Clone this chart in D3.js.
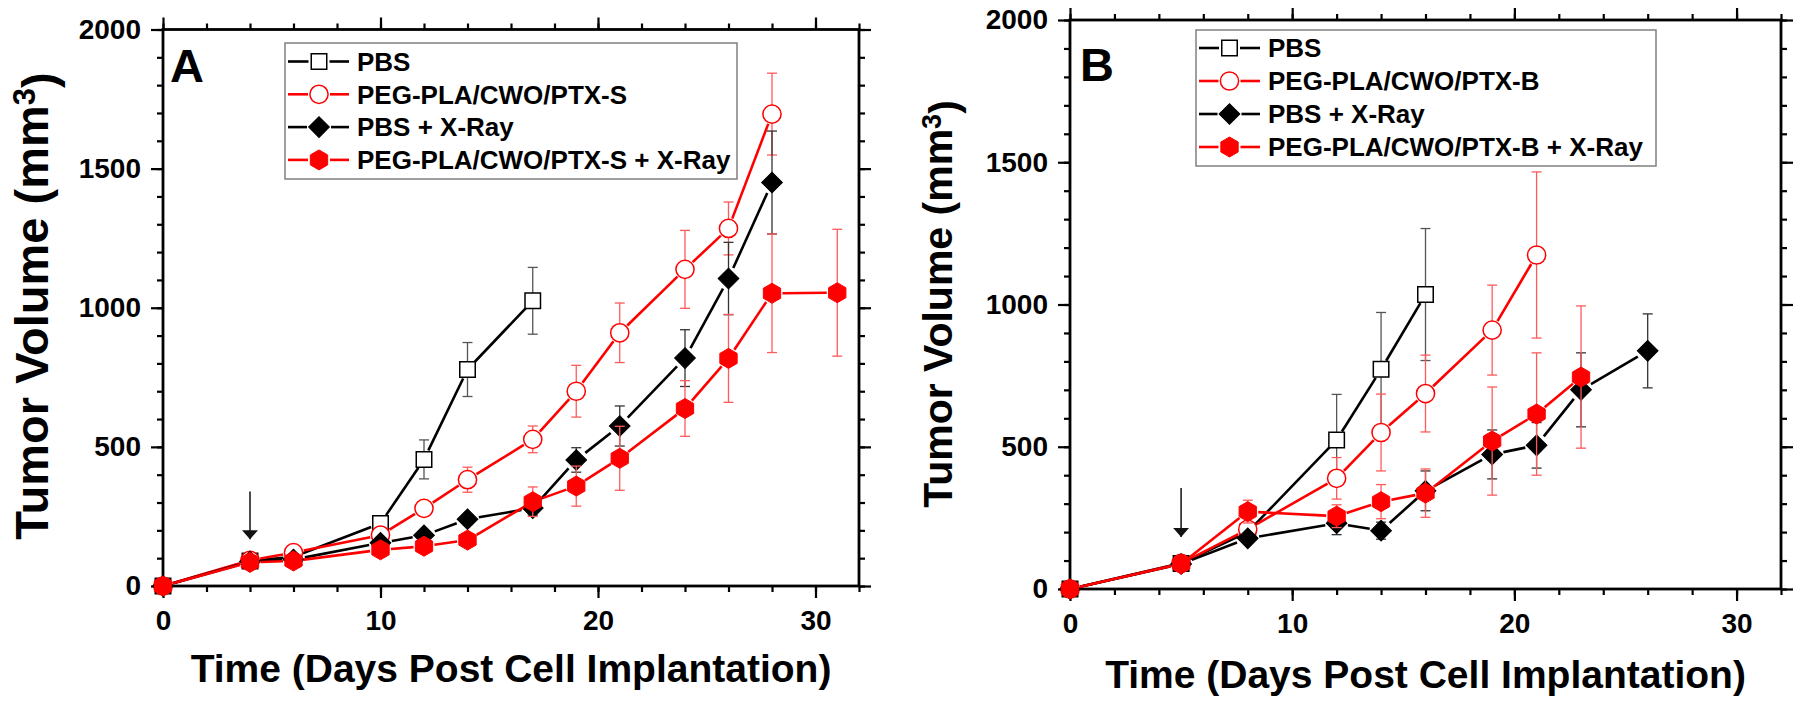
<!DOCTYPE html>
<html>
<head>
<meta charset="utf-8">
<script src="https://cdn.jsdelivr.net/npm/d3@7"></script>
<style>
  body { margin: 0; background: #fff; }
  svg { display: block; }
  text { font-family: "Liberation Sans", Arial, sans-serif; font-weight: bold; fill: #000; }
</style>
</head>
<body>
<svg id="chart" width="1800" height="705"></svg>
<script>
// ---- data, panel A (PTX-S) ----
var pbsA_days  = [0, 4, 6, 10, 12, 14, 17],
    pbsA_vol   = [0, 90, 105, 225, 455, 778, 1025],
    pbsA_err   = [0, 8, 10, 20, 70, 97, 120];

var ptxA_days  = [0, 4, 6, 10, 12, 14, 17, 19, 21, 24, 26, 28],
    ptxA_vol   = [0, 92, 120, 183, 279, 382, 527, 700, 910, 1138, 1285, 1696],
    ptxA_err   = [0, 8, 12, 15, 20, 45, 48, 93, 107, 140, 95, 147];

var xrayA_days = [0, 4, 6, 10, 12, 14, 17, 19, 21, 24, 26, 28],
    xrayA_vol  = [0, 88, 95, 155, 182, 240, 280, 453, 575, 819, 1105, 1450],
    xrayA_err  = [0, 8, 10, 12, 15, 15, 25, 44, 72, 102, 130, 185];

var comboA_days = [0, 4, 6, 10, 12, 14, 17, 19, 21, 24, 26, 28, 31],
    comboA_vol  = [0, 85, 90, 130, 143, 165, 303, 359, 459, 638, 818, 1052, 1054],
    comboA_err  = [0, 8, 8, 12, 12, 15, 53, 72, 115, 100, 158, 213, 228];

// ---- data, panel B (PTX-B) ----
var pbsB_days  = [0, 5, 8, 12, 14, 16],
    pbsB_vol   = [0, 90, 200, 524, 772, 1035],
    pbsB_err   = [0, 8, 20, 160, 200, 232];

var ptxB_days  = [0, 5, 8, 12, 14, 16, 19, 21],
    ptxB_vol   = [0, 90, 210, 389, 550, 687, 910, 1174],
    ptxB_err   = [0, 8, 20, 73, 135, 135, 158, 292];

var xrayB_days = [0, 5, 8, 12, 14, 16, 19, 21, 23, 26],
    xrayB_vol  = [0, 88, 178, 231, 205, 345, 473, 505, 700, 837],
    xrayB_err  = [0, 8, 15, 40, 30, 70, 86, 80, 130, 130];

var comboB_days = [0, 5, 8, 12, 14, 16, 19, 21, 23],
    comboB_vol  = [0, 88, 272, 256, 307, 337, 520, 615, 745],
    comboB_err  = [0, 8, 40, 40, 60, 85, 190, 215, 250];

// treatment arrows: [day, start volume, tip volume]
var arrowA = [4, 340, 168],
    arrowB = [5, 355, 183];

var xMajor = [0, 10, 20, 30],
    xMinor = d3.range(0, 33, 2),
    yMajor = [0, 500, 1000, 1500, 2000],
    yMinor = d3.range(0, 2001, 100);

var namesA = ["PBS", "PEG-PLA/CWO/PTX-S", "PBS + X-Ray", "PEG-PLA/CWO/PTX-S + X-Ray"],
    namesB = ["PBS", "PEG-PLA/CWO/PTX-B", "PBS + X-Ray", "PEG-PLA/CWO/PTX-B + X-Ray"];

// ---- symbols ----
function hexagon(r) {
	var pts = d3.range(6).map(function(i) {
		var a = -Math.PI / 2 + i * Math.PI / 3;
		return [r * Math.cos(a), r * Math.sin(a)];
	});
	return d3.line()(pts) + "Z";
}

var symbols = {
	square:  { path: d3.symbol(d3.symbolSquare, 240)(), r: 8.5, rot: 0 },
	circle:  { path: d3.symbol(d3.symbolCircle, 260)(), r: 9,   rot: 0 },
	diamond: { path: d3.symbol(d3.symbolSquare, 215)(), r: 10,  rot: 45 },
	hexagon: { path: hexagon(10),                       r: 9,   rot: 0 }
};

var RED = "#ff0000";

function makeSeries(names, sets) {
	var styles = [
		{ color: "#000", err: "#555",    sym: "square",  fill: "#fff", sw: 1.5 },
		{ color: RED,    err: "#ff5a5a", sym: "circle",  fill: "#fff", sw: 1.5 },
		{ color: "#000", err: "#333",    sym: "diamond", fill: "#000", sw: 1 },
		{ color: RED,    err: "#ff5a5a", sym: "hexagon", fill: RED,    sw: 1 }
	];
	return sets.map(function(s, i) {
		return {
			name: names[i],
			pts: s[0].map(function(d, j) { return { x: d, y: s[1][j], e: s[2][j] }; }),
			style: styles[i]
		};
	});
}

var seriesA = makeSeries(namesA, [
	[pbsA_days, pbsA_vol, pbsA_err],
	[ptxA_days, ptxA_vol, ptxA_err],
	[xrayA_days, xrayA_vol, xrayA_err],
	[comboA_days, comboA_vol, comboA_err]
]);
var seriesB = makeSeries(namesB, [
	[pbsB_days, pbsB_vol, pbsB_err],
	[ptxB_days, ptxB_vol, ptxB_err],
	[xrayB_days, xrayB_vol, xrayB_err],
	[comboB_days, comboB_vol, comboB_err]
]);

var svg = d3.select("#chart");

var defs = svg.append("defs");
defs.append("marker")
	.attr("id", "arrowhead")
	.attr("viewBox", "0 0 10 10")
	.attr("refX", 10).attr("refY", 5)
	.attr("markerUnits", "userSpaceOnUse")
	.attr("markerWidth", 9).attr("markerHeight", 16)
	.attr("orient", "auto")
	.attr("preserveAspectRatio", "none")
	.append("path")
	.attr("d", "M0,0L10,5L0,10Z")
	.attr("fill", "#111");

function drawPanel(cfg) {
	var x = d3.scaleLinear().domain([0, 32]).range([cfg.left, cfg.right]);
	var y = d3.scaleLinear().domain([0, 2000]).range([cfg.bottom, cfg.top]);
	var g = svg.append("g");

	// ticks: bottom/left labelled, top/right bare, all outward
	function tickAxis(axisFn, scale, vals, size, labels, pos, isX) {
		var ax = axisFn(scale).tickValues(vals).tickSize(size).tickSizeOuter(0)
			.tickPadding(isX ? 12 : 10)
			.tickFormat(labels ? d3.format("d") : "");
		var a = g.append("g")
			.attr("transform", isX ? "translate(0," + pos + ")" : "translate(" + pos + ",0)")
			.call(ax);
		a.select(".domain").remove();
		a.selectAll("line").attr("stroke", "#000").attr("stroke-width", 2.2);
		a.selectAll("text").style("font-size", "28px").attr("fill", "#000");
		return a;
	}
	tickAxis(d3.axisBottom, x, xMinor, 6, false, cfg.bottom, true);
	tickAxis(d3.axisBottom, x, xMajor, 12, true, cfg.bottom, true);
	tickAxis(d3.axisTop, x, xMinor, 6, false, cfg.top, true);
	tickAxis(d3.axisTop, x, xMajor, 12, false, cfg.top, true);
	tickAxis(d3.axisLeft, y, yMinor, 6, false, cfg.left, false);
	tickAxis(d3.axisLeft, y, yMajor, 12, true, cfg.left, false);
	tickAxis(d3.axisRight, y, yMinor, 6, false, cfg.right, false);
	tickAxis(d3.axisRight, y, yMajor, 12, false, cfg.right, false);

	g.append("rect")
		.attr("x", cfg.left).attr("y", cfg.top)
		.attr("width", cfg.right - cfg.left).attr("height", cfg.bottom - cfg.top)
		.attr("fill", "none").attr("stroke", "#000").attr("stroke-width", 2.8);

	// axis titles
	g.append("text")
		.attr("x", (cfg.left + cfg.right) / 2).attr("y", cfg.xTitleY)
		.attr("text-anchor", "middle")
		.style("font-size", "39px")
		.text("Time (Days Post Cell Implantation)");

	var yt = g.append("text")
		.attr("transform", "translate(" + cfg.yTitleX + "," + cfg.yTitleMid + ") rotate(-90)")
		.attr("text-anchor", "middle")
		.style("font-size", cfg.yTitleSize + "px");
	yt.append("tspan").text("Tumor Volume (mm");
	yt.append("tspan").attr("dy", "-0.42em").style("font-size", "0.66em").text("3");
	yt.append("tspan").attr("dy", "0.42em").text(")");

	g.append("text")
		.attr("x", cfg.labelX).attr("y", cfg.labelY)
		.style("font-size", "47px")
		.text(cfg.label);

	// treatment arrow
	g.append("line")
		.attr("x1", x(cfg.arrow[0])).attr("x2", x(cfg.arrow[0]))
		.attr("y1", y(cfg.arrow[1])).attr("y2", y(cfg.arrow[2]))
		.attr("stroke", "#111").attr("stroke-width", 1.5)
		.attr("marker-end", "url(#arrowhead)");

	// series: line, error bars, symbols (in plot order)
	cfg.series.forEach(function(s) {
		var st = s.style, r = symbols[st.sym].r;
		var px = s.pts.map(function(p) { return [x(p.x), y(p.y)]; });

		g.append("g").selectAll("line")
			.data(d3.pairs(px))
			.enter().append("line")
			.each(function(d) {
				var dx = d[1][0] - d[0][0], dy = d[1][1] - d[0][1];
				var len = Math.sqrt(dx * dx + dy * dy), gap = r + 1.5;
				var sel = d3.select(this);
				if (len <= 2 * gap) { sel.remove(); return; }
				var ux = dx / len, uy = dy / len;
				sel.attr("x1", d[0][0] + ux * gap).attr("y1", d[0][1] + uy * gap)
					.attr("x2", d[1][0] - ux * gap).attr("y2", d[1][1] - uy * gap);
			})
			.attr("stroke", st.color).attr("stroke-width", 2.6);

		var eb = g.append("g").attr("stroke", st.err).attr("stroke-width", 1.3);
		s.pts.filter(function(p) { return p.e > 0; }).forEach(function(p) {
			var cx = x(p.x);
			eb.append("line").attr("x1", cx).attr("x2", cx)
				.attr("y1", y(p.y + p.e)).attr("y2", y(p.y - p.e));
			[p.y + p.e, p.y - p.e].forEach(function(v) {
				eb.append("line").attr("x1", cx - 5).attr("x2", cx + 5)
					.attr("y1", y(v)).attr("y2", y(v));
			});
		});

		g.append("g").selectAll("path")
			.data(s.pts)
			.enter().append("path")
			.attr("d", symbols[st.sym].path)
			.attr("transform", function(p) {
				return "translate(" + x(p.x) + "," + y(p.y) + ") rotate(" + symbols[st.sym].rot + ")";
			})
			.attr("fill", st.fill)
			.attr("stroke", st.color)
			.attr("stroke-width", st.sw);
	});

	// legend
	var L = cfg.legend;
	var lg = g.append("g");
	lg.append("rect")
		.attr("x", L.x0).attr("y", L.y0)
		.attr("width", L.x1 - L.x0).attr("height", L.y1 - L.y0)
		.attr("fill", "#fff").attr("stroke", "#888").attr("stroke-width", 1.6);
	cfg.series.forEach(function(s, i) {
		var st = s.style, sym = symbols[st.sym];
		var cy = L.row0 + i * L.rowStep;
		var row = lg.append("g");
		[[L.lineX0, L.markX - sym.r - 2], [L.markX + sym.r + 2, L.lineX1]].forEach(function(seg) {
			row.append("line")
				.attr("x1", seg[0]).attr("x2", seg[1]).attr("y1", cy).attr("y2", cy)
				.attr("stroke", st.color).attr("stroke-width", 2.6);
		});
		row.append("path")
			.attr("d", sym.path)
			.attr("transform", "translate(" + L.markX + "," + cy + ") rotate(" + sym.rot + ")")
			.attr("fill", st.fill).attr("stroke", st.color).attr("stroke-width", st.sw);
		row.append("text")
			.attr("x", L.textX).attr("y", cy).attr("dy", "0.36em")
			.style("font-size", "26px")
			.text(s.name);
	});
}

drawPanel({
	left: 163, right: 859, top: 29.5, bottom: 586,
	series: seriesA, arrow: arrowA, label: "A", labelX: 170, labelY: 82,
	xTitleY: 682, yTitleX: 48, yTitleMid: 306, yTitleSize: 47,
	legend: { x0: 285, x1: 737, y0: 43, y1: 179, row0: 61.5, rowStep: 32.8,
	          lineX0: 288, lineX1: 349, markX: 319, textX: 357 }
});

drawPanel({
	left: 1070, right: 1781, top: 20, bottom: 589,
	series: seriesB, arrow: arrowB, label: "B", labelX: 1080, labelY: 81,
	xTitleY: 688, yTitleX: 952, yTitleMid: 304, yTitleSize: 41,
	legend: { x0: 1196, x1: 1656, y0: 30, y1: 166, row0: 48, rowStep: 33,
	          lineX0: 1199, lineX1: 1260, markX: 1229.5, textX: 1268 }
});
</script>
</body>
</html>
